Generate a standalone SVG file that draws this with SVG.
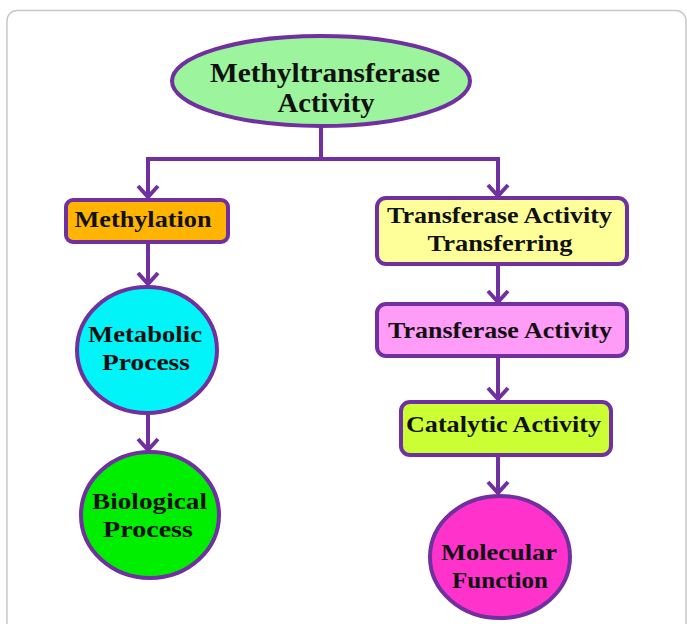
<svg xmlns="http://www.w3.org/2000/svg" width="687" height="624" viewBox="0 0 687 624">
<defs>
<style>
.edge{fill:none;stroke:#7030a0;stroke-width:4}
.head{fill:none;stroke:#7030a0;stroke-width:4;stroke-linejoin:miter}
.shape{stroke:#7030a0;stroke-width:4}
.t{font-family:"Liberation Serif","Times New Roman",serif;font-weight:bold;fill:#111;text-anchor:middle}
</style>
</defs>
<rect x="7" y="10.5" width="679" height="640" rx="10" fill="#fff" stroke="#c8c8c8" stroke-width="1.5"/>
<g id="connectors">
<path class="edge" d="M321 127 V159 M148 159 H498 M148 157 V198 M498 157 V196"/>
<path class="head" d="M138 186 L148 197 L158 186 M488 185 L498 196 L508 185"/>
<path class="edge" d="M148 242 V284"/>
<path class="head" d="M138 273 L148 284 L158 273"/>
<path class="edge" d="M148 413 V450"/>
<path class="head" d="M138 439 L148 450 L158 439"/>
<path class="edge" d="M498 264 V302"/>
<path class="head" d="M488 291 L498 302 L508 291"/>
<path class="edge" d="M498 356 V399"/>
<path class="head" d="M488 388 L498 399 L508 388"/>
<path class="edge" d="M498 455 V493"/>
<path class="head" d="M488 482 L498 493 L508 482"/>
</g>
<g id="methyltransferase">
<ellipse class="shape" cx="321" cy="81" rx="149" ry="45" fill="#9cf49c"/>
<text class="t" x="325" y="82" font-size="27" textLength="230" lengthAdjust="spacingAndGlyphs">Methyltransferase</text>
<text class="t" x="326" y="112" font-size="27" textLength="97" lengthAdjust="spacingAndGlyphs">Activity</text>
</g>
<g id="methylation">
<rect class="shape" x="66" y="200" width="162" height="42" rx="7" fill="#ffb400"/>
<text class="t" x="143" y="227" font-size="23" textLength="137" lengthAdjust="spacingAndGlyphs">Methylation</text>
</g>
<g id="metabolic">
<ellipse class="shape" cx="147" cy="350" rx="70" ry="63" fill="#00f4f8"/>
<text class="t" x="145" y="342" font-size="23" textLength="114" lengthAdjust="spacingAndGlyphs">Metabolic</text>
<text class="t" x="146" y="370" font-size="23" textLength="88" lengthAdjust="spacingAndGlyphs">Process</text>
</g>
<g id="biological">
<ellipse class="shape" cx="150" cy="515" rx="69" ry="63" fill="#00ee00"/>
<text class="t" x="149.5" y="509" font-size="23" textLength="115" lengthAdjust="spacingAndGlyphs">Biological</text>
<text class="t" x="148" y="537" font-size="23" textLength="90" lengthAdjust="spacingAndGlyphs">Process</text>
</g>
<g id="transferring">
<rect class="shape" x="377" y="198" width="250" height="66" rx="9" fill="#ffff99"/>
<text class="t" x="499.5" y="223" font-size="23" textLength="225" lengthAdjust="spacingAndGlyphs">Transferase Activity</text>
<text class="t" x="500" y="251" font-size="23" textLength="145" lengthAdjust="spacingAndGlyphs">Transferring</text>
</g>
<g id="transferase">
<rect class="shape" x="377" y="304" width="250" height="52" rx="9" fill="#ff9cf8"/>
<text class="t" x="500" y="338" font-size="23" textLength="224" lengthAdjust="spacingAndGlyphs">Transferase Activity</text>
</g>
<g id="catalytic">
<rect class="shape" x="401" y="402" width="210" height="53" rx="9" fill="#ccff33"/>
<text class="t" x="503.5" y="432" font-size="23" textLength="195" lengthAdjust="spacingAndGlyphs">Catalytic Activity</text>
</g>
<g id="molecular">
<ellipse class="shape" cx="500" cy="557" rx="70" ry="61" fill="#ff33cc"/>
<text class="t" x="499" y="560" font-size="23" textLength="116" lengthAdjust="spacingAndGlyphs">Molecular</text>
<text class="t" x="500" y="588" font-size="23" textLength="96" lengthAdjust="spacingAndGlyphs">Function</text>
</g>
</svg>
